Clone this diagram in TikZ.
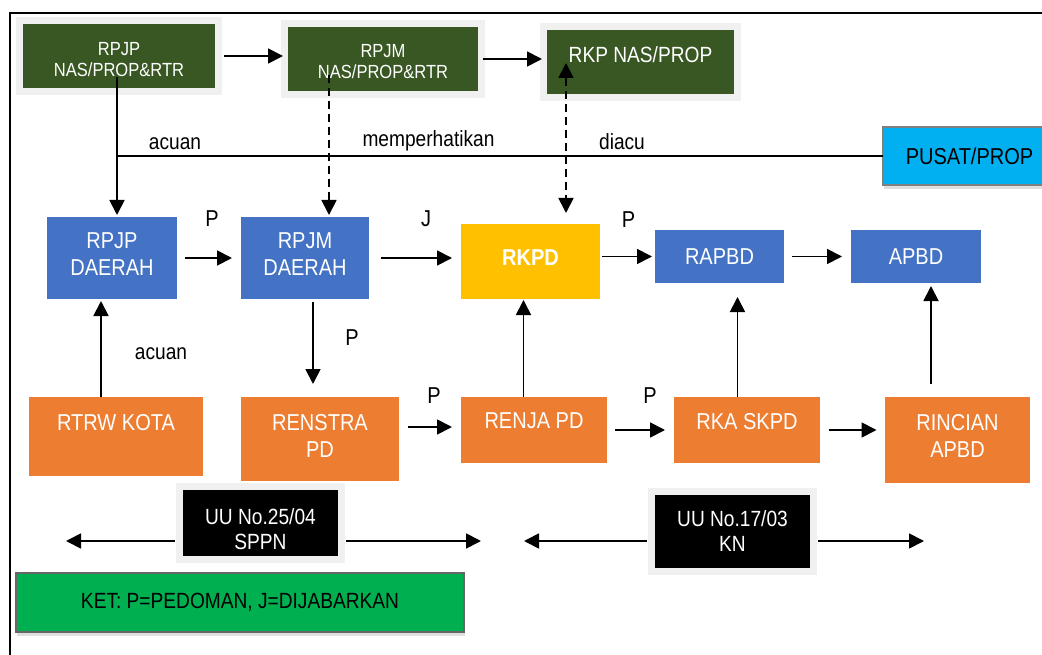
\documentclass[tikz,border=0pt]{standalone}
\usepackage{fontspec}
\setmainfont{Liberation Sans}[FakeStretch=0.87]
\usetikzlibrary{arrows.meta,shadows}
\definecolor{hijau}{RGB}{56,87,35}
\definecolor{biru}{RGB}{68,114,196}
\definecolor{oranye}{RGB}{237,125,49}
\definecolor{kuning}{RGB}{255,192,0}
\definecolor{langit}{RGB}{0,176,240}
\definecolor{hijaumuda}{RGB}{0,176,80}
\begin{document}
\begin{tikzpicture}[x=1pt, y=-1pt, line width=1.8pt, >={Triangle[length=15pt,width=15pt]},
box/.style = {rectangle, inner sep=2pt, outer sep=0pt, align=center, text=white},
nas/.style = {box, fill=hijau, minimum height=64pt, preaction={draw=black!6, line width=14pt}, font=\fontsize{19}{21}\selectfont},
daerah/.style = {box, fill=biru, font=\fontsize{23}{27}\selectfont},
opd/.style = {box, fill=oranye, font=\fontsize{23}{27}\selectfont},
uu/.style = {box, fill=black, preaction={draw=black!6, line width=14pt}, font=\fontsize{22}{25}\selectfont},
bayang/.style = {drop shadow={shadow xshift=1pt, shadow yshift=-4pt, opacity=0.25}},
lbl/.style = {anchor=base, inner sep=0pt, font=\fontsize{22}{26}\selectfont},
hrf/.style = {lbl, font=\fontsize{23}{27}\selectfont},
naik/.style = {text depth=#1},
turun/.style = {text height=#1},
dsh/.style = {dash pattern=on 8pt off 5pt}]
\useasboundingbox (0,0) rectangle (1042,655);
\clip (0,0) rectangle (1042,655);
\draw[line width=1.3pt] (10,665) -- (10,13) -- (1050,13);
\node[nas, minimum width=192pt, turun=41pt] (rpjpnas) at (119,56) {RPJP\\NAS/PROP\&RTR};
\node[nas, minimum width=190pt, turun=39pt] (rpjmnas) at (383,59) {RPJM\\NAS/PROP\&RTR};
\node[nas, minimum width=187pt, font=\fontsize{22}{26}\selectfont, naik=14pt] (rkpnas) at (640.5,62) {RKP NAS/PROP};
\node[box, bayang, fill=langit, draw=black!50, line width=2.5pt, text=black, minimum width=173pt, minimum height=58pt, font=\fontsize{23}{27}\selectfont] (pusat) at (969.5,156) {PUSAT/PROP};
\node[daerah, minimum width=130pt, minimum height=82pt, naik=7pt] (rpjpd) at (112,258) {RPJP\\DAERAH};
\node[daerah, minimum width=128pt, minimum height=82pt, naik=7pt] (rpjmd) at (305,258) {RPJM\\DAERAH};
\node[box, fill=kuning, minimum width=139pt, minimum height=75pt, font=\fontsize{23}{27}\selectfont\bfseries, naik=8pt] (rkpd) at (530.5,261.5) {RKPD};
\node[daerah, minimum width=129pt, minimum height=53pt] (rapbd) at (719.5,256.5) {RAPBD};
\node[daerah, minimum width=130pt, minimum height=53pt] (apbd) at (916,256.5) {APBD};
\node[opd, minimum width=174pt, minimum height=79pt, naik=29pt] (rtrw) at (116,436.5) {RTRW KOTA};
\node[opd, minimum width=158pt, minimum height=84pt, naik=7pt] (renstra) at (320,439) {RENSTRA\\PD};
\node[opd, minimum width=146pt, minimum height=66pt, naik=18pt] (renja) at (534,430) {RENJA PD};
\node[opd, minimum width=146pt, minimum height=66pt, naik=18pt] (rka) at (747,430) {RKA SKPD};
\node[opd, minimum width=145pt, minimum height=86pt, naik=9pt] (rincian) at (957.5,440) {RINCIAN\\APBD};
\node[uu, minimum width=155pt, minimum height=66pt, turun=53pt] (uu25) at (260.5,523) {UU No.25/04\\SPPN};
\node[uu, minimum width=155pt, minimum height=73pt] (uu17) at (732.5,531.5) {UU No.17/03\\KN};
\node[box, bayang, fill=hijaumuda, draw=black!60, line width=2.5pt, text=black, minimum width=448pt, minimum height=59pt, font=\fontsize{22}{26}\selectfont] (ket) at (240,602.5) {KET: P=PEDOMAN, J=DIJABARKAN};
\node[lbl] (acuan1) at (175,150) {acuan};
\node[lbl] (perhatikan) at (428.5,147) {memperhatikan};
\node[lbl] (diacu) at (622,150) {diacu};
\node[lbl] (acuan2) at (161,359) {acuan};
\node[hrf] (p1) at (212,227) {P};
\node[hrf] (j1) at (426,227) {J};
\node[hrf] (p2) at (628.5,228) {P};
\node[hrf] (p3) at (352,345) {P};
\node[hrf] (p4) at (434,403) {P};
\node[hrf] (p5) at (650,403) {P};
\coordinate (jp) at (117,77);
\coordinate (jm) at (329,75);
\coordinate (kp) at (566,63);
\coordinate (cab) at (117,156);
\coordinate (l25) at (66,541);
\coordinate (r25) at (481,541);
\coordinate (l17) at (524,541);
\coordinate (r17) at (924,541);
\draw[->, shorten <=9pt, shorten >=5pt] (rpjpnas.east) -- (rpjpnas.east -| rpjmnas.west);
\draw[->, shorten <=5pt, shorten >=5pt] (rpjmnas.east) -- (rpjmnas.east -| rkpnas.west);
\draw[->, shorten >=2pt] (jp) -- (jp |- rpjpd.north);
\draw (cab) -- (pusat.west);
\draw[->, dsh, shorten >=2pt] (jm) -- (jm |- rpjmd.north);
\draw[<->, dsh, shorten >=11pt] (kp) -- (kp |- rkpd.north);
\draw[->, shorten <=8pt, shorten >=9pt] (rpjpd.east) -- (rpjmd.west);
\draw[->, shorten <=12pt, shorten >=9pt] (rpjmd.east) -- (rpjmd.east -| rkpd.west);
\draw[->, shorten <=2pt, shorten >=3pt] (rkpd.east |- rapbd.west) -- (rapbd.west);
\draw[->, shorten <=8pt, shorten >=9pt] (rapbd.east) -- (apbd.west);
\draw[->, shorten >=2pt] ([xshift=-15pt]rtrw.north) -- ([xshift=-15pt]rtrw.north |- rpjpd.south);
\draw[->, shorten <=3pt, shorten >=13pt] ([xshift=8pt]rpjmd.south) -- ([xshift=8pt]rpjmd.south |- renstra.north);
\draw[->, shorten <=9pt, shorten >=9pt] ([yshift=12pt]renstra.east) -- ([yshift=12pt]renstra.east -| renja.west);
\draw[->, shorten >=1pt] ([xshift=-10.5pt]renja.north) -- ([xshift=-10.5pt]renja.north |- rkpd.south);
\draw[->, shorten <=8pt, shorten >=9pt] (renja.east) -- (rka.west);
\draw[->, shorten >=14pt] ([xshift=-9.5pt]rka.north) -- ([xshift=-9.5pt]rka.north |- rapbd.south);
\draw[->, shorten <=8.5pt, shorten >=8.5pt] (rka.east) -- (rka.east -| rincian.west);
\draw[->, shorten <=13pt, shorten >=3pt] ([xshift=-26.5pt]rincian.north) -- ([xshift=-26.5pt]rincian.north |- apbd.south);
\draw[->, shorten <=8pt] ([yshift=-18pt]uu25.west) -- (l25);
\draw[->, shorten <=8pt] ([yshift=-18pt]uu25.east) -- (r25);
\draw[->, shorten <=8pt] ([yshift=-9.5pt]uu17.west) -- (l17);
\draw[->, shorten <=8pt] ([yshift=-9.5pt]uu17.east) -- (r17);
\end{tikzpicture}
\end{document}
